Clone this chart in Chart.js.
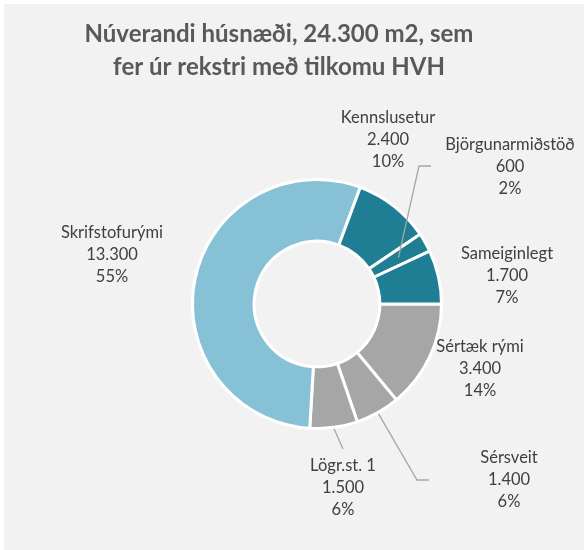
<!DOCTYPE html>
<html>
<head>
<meta charset="utf-8">
<title>Núverandi húsnæði</title>
<script src="https://cdn.jsdelivr.net/npm/chart.js@4.4.1/dist/chart.umd.min.js"></script>
<style>
  body { margin: 0; background: #ffffff; }
  #wrap { position: relative; width: 584px; height: 550px; }
  #bg { position: absolute; left: 4px; top: 4px; width: 580px; height: 546px; background: #f2f2f2; }
  #chart { position: absolute; left: 0; top: 0; }
</style>
</head>
<body>
<div id="wrap">
  <div id="bg"></div>
  <canvas id="chart" width="584" height="550"></canvas>
</div>
<script>
'use strict';

// The data, in slice order (first slice starts at 3 o'clock)
var categories = ['Sértæk rými', 'Sérsveit', 'Lögr.st. 1', 'Skrifstofurými', 'Kennslusetur', 'Björgunarmiðstöð', 'Sameiginlegt'];
var values = [3400, 1400, 1500, 13300, 2400, 600, 1700];
var titleLines = ['Núverandi húsnæði, 24.300 m2, sem', 'fer úr rekstri með tilkomu HVH'];

// Styles
var sliceColors = ['#a6a6a6', '#a6a6a6', '#a6a6a6', '#87c1d5', '#1f7e94', '#1f7e94', '#1f7e94'];

// label placement: x centre, first baseline, and optional leader line
// (from: 'outer' edge or 'mid' of the slice, then elbow and end points)
var labelPos = {
    'Sértæk rými':      { x: 480, y: 352 },
    'Sérsveit':         { x: 509, y: 463, leader: { from: 'outer', pts: [[417, 480], [429, 480]] } },
    'Lögr.st. 1':       { x: 343, y: 471, leader: { from: 'outer', pts: [[343, 449]] } },
    'Skrifstofurými':   { x: 112, y: 238 },
    'Kennslusetur':     { x: 388, y: 123 },
    'Björgunarmiðstöð': { x: 510, y: 150, leader: { from: 'mid', pts: [[419, 166], [431, 166]] } },
    'Sameiginlegt':     { x: 507, y: 259 }
};

function fmt(n) {
    return String(n).replace(/\B(?=(\d{3})+(?!\d))/g, '.');
}

var total = values.reduce(function (a, b) { return a + b; }, 0);

var labelPlugin = {
    id: 'sliceLabels',
    afterDatasetsDraw: function (chart) {
        var ctx = chart.ctx;
        var meta = chart.getDatasetMeta(0);
        ctx.save();

        // leader lines
        ctx.strokeStyle = '#a6a6a6';
        ctx.lineWidth = 1.3;
        meta.data.forEach(function (arc, i) {
            var pos = labelPos[categories[i]];
            if (!pos.leader) return;
            var mid = (arc.startAngle + arc.endAngle) / 2;
            var r = pos.leader.from === 'mid' ? (arc.innerRadius + arc.outerRadius) / 2 : arc.outerRadius + 1.5;
            ctx.beginPath();
            ctx.moveTo(arc.x + Math.cos(mid) * r, arc.y + Math.sin(mid) * r);
            pos.leader.pts.forEach(function (p) { ctx.lineTo(p[0], p[1]); });
            ctx.stroke();
        });

        // label text
        ctx.fillStyle = '#404040';
        ctx.font = '16.5px Lato';
        ctx.textAlign = 'center';
        ctx.textBaseline = 'alphabetic';
        categories.forEach(function (c, i) {
            var pos = labelPos[c];
            var pct = Math.round(values[i] / total * 100) + '%';
            [c, fmt(values[i]), pct].forEach(function (t, k) {
                ctx.fillText(t, pos.x, pos.y + k * 22.2);
            });
        });

        // title
        ctx.fillStyle = '#595959';
        ctx.font = 'bold 24px Lato';
        titleLines.forEach(function (t, k) {
            ctx.fillText(t, 279, 42 + k * 33);
        });
        ctx.restore();
    }
};

var ctx = document.getElementById('chart').getContext('2d');
var chart = new Chart(ctx, {
    type: 'doughnut',
    data: {
        labels: categories,
        datasets: [{
            data: values,
            backgroundColor: sliceColors,
            borderColor: '#ffffff',
            borderWidth: 3
        }]
    },
    options: {
        responsive: false,
        animation: false,
        events: [],
        rotation: 90,
        cutout: '50.5%',
        layout: { padding: { left: 191, top: 178, right: 141, bottom: 120 } },
        plugins: {
            legend: { display: false },
            tooltip: { enabled: false },
            title: { display: false }
        }
    },
    plugins: [labelPlugin]
});
</script>
</body>
</html>
